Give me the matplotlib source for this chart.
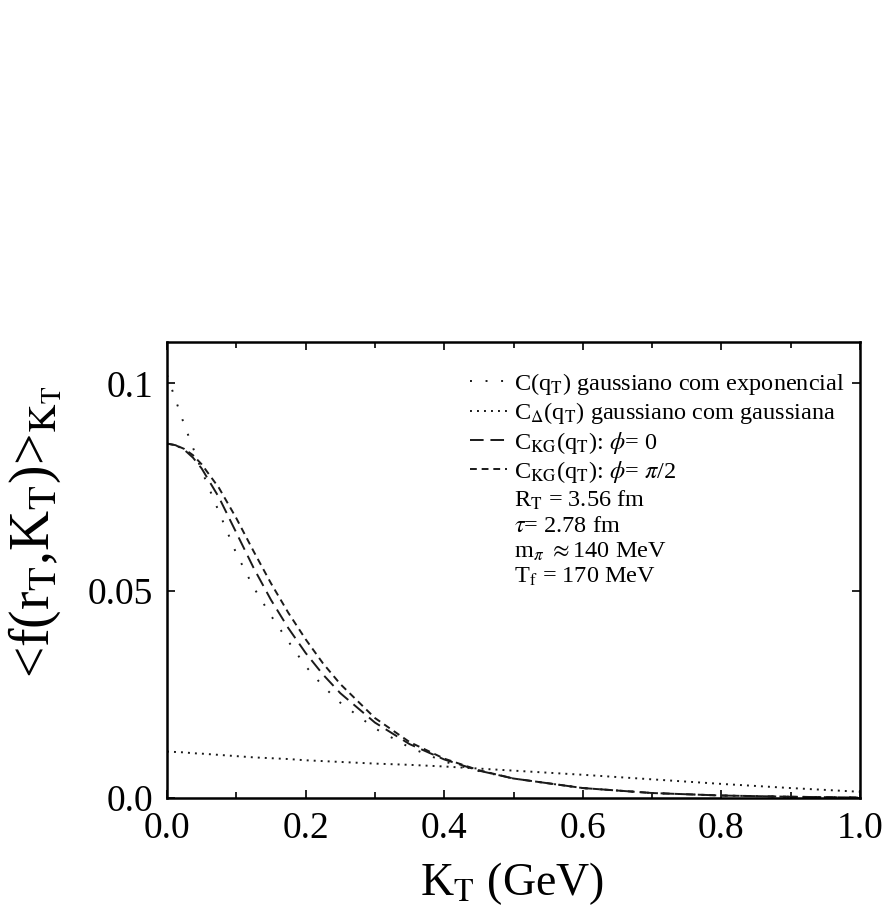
import matplotlib
matplotlib.use("Agg")
import matplotlib.pyplot as plt
from matplotlib.lines import Line2D
from matplotlib.ticker import MultipleLocator, FixedLocator

plt.rcParams['font.family'] = ['Liberation Serif', 'DejaVu Serif']
plt.rcParams['mathtext.fontset'] = 'stix'

# K_T grid (GeV)
kt = [0.000, 0.0125, 0.025, 0.0375, 0.050, 0.075, 0.100, 0.125, 0.150, 0.175, 0.200, 0.225,
      0.250, 0.300, 0.350, 0.400, 0.450, 0.500, 0.600, 0.700, 0.800, 0.900, 1.000]

# C(q_T) gaussiano com exponencial (sparse dots)
gauss_exp = [0.1020, 0.0960, 0.0900, 0.0845, 0.0790, 0.0690, 0.0590, 0.0508, 0.0440, 0.0378, 0.0318, 0.0270,
             0.0230, 0.0168, 0.0122, 0.0088, 0.0065, 0.0047, 0.0024, 0.0012, 0.0006, 0.0003, 0.0001]

# C_Delta(q_T) gaussiano com gaussiana (dense dots)
gauss_gauss = [0.0112, 0.0111, 0.0110, 0.0108, 0.0107, 0.0104, 0.0101, 0.0098, 0.0096, 0.0094, 0.0091, 0.0089,
               0.0087, 0.0083, 0.0080, 0.0076, 0.0071, 0.0066, 0.0056, 0.0045, 0.0034, 0.0024, 0.0015]

# C_KG(q_T): phi = 0 (long dashes)
kg_phi0 = [0.0855, 0.0851, 0.0840, 0.0821, 0.0795, 0.0725, 0.0640, 0.0555, 0.0478, 0.0410, 0.0350, 0.0298,
           0.0253, 0.0182, 0.0130, 0.0093, 0.0066, 0.0047, 0.0024, 0.0012, 0.0006, 0.0003, 0.0001]

# C_KG(q_T): phi = pi/2 (short dashes)
kg_phi90 = [0.0855, 0.0851, 0.0842, 0.0827, 0.0805, 0.0748, 0.0675, 0.0595, 0.0518, 0.0447, 0.0383, 0.0325,
            0.0275, 0.0193, 0.0135, 0.0095, 0.0067, 0.0047, 0.0024, 0.0012, 0.0006, 0.0003, 0.0001]

labels = [r'C(q$_\mathrm{T}$) gaussiano com exponencial',
          r'C$_\Delta$(q$_\mathrm{T}$) gaussiano com gaussiana',
          r'C$_\mathrm{KG}$(q$_\mathrm{T}$): $\phi$= 0',
          r'C$_\mathrm{KG}$(q$_\mathrm{T}$): $\phi$= $\pi$/2']
params = [r'R$_\mathrm{T}$ = 3.56 fm',
          r'$\tau$= 2.78 fm',
          r'm$_\pi$ $\approx$140 MeV',
          r'T$_\mathrm{f}$ = 170 MeV']

xticks = [0.0, 0.2, 0.4, 0.6, 0.8, 1.0]
xticklabels = ['0.0', '0.2', '0.4', '0.6', '0.8', '1.0']
yticks = [0.0, 0.05, 0.1]
yticklabels = ['0.0', '0.05', '0.1']

W, H = 885, 919
fig = plt.figure(figsize=(W / 100, H / 100), dpi=100)
x0, x1, yt, yb = 167, 860, 342, 798
ax = fig.add_axes([x0 / W, 1 - yb / H, (x1 - x0) / W, (yb - yt) / H])

col = '#1a1a1a'
lw = 1.4
styles = [(0, (1, 7)), (0, (1, 2.6)), (0, (7, 3.5)), (0, (3.5, 2.5))]
series = [gauss_exp, gauss_gauss, kg_phi0, kg_phi90]
handles = []
for s, ls, lab in zip(series, styles, labels):
    h, = ax.plot(kt, s, color=col, lw=lw, linestyle=ls, label=lab)
    handles.append(h)

for p in params:
    handles.append(Line2D([], [], color='none', label=p))

ax.set_xlim(0, 1.0)
ax.set_ylim(0, 0.11)
ax.xaxis.set_major_locator(FixedLocator(xticks))
ax.set_xticklabels(xticklabels)
ax.xaxis.set_minor_locator(MultipleLocator(0.1))
ax.yaxis.set_major_locator(FixedLocator(yticks))
ax.set_yticklabels(yticklabels)

for sp in ax.spines.values():
    sp.set_linewidth(1.8)
ax.tick_params(which='both', direction='in', top=True, right=True, width=1.2)
ax.tick_params(which='major', length=6, labelsize=27, pad=10)
ax.tick_params(which='minor', length=4)

ax.set_xlabel(r'K$_\mathrm{T}$ (GeV)', fontsize=33)
ax.xaxis.set_label_coords(0.498, -0.136)
ax.set_ylabel(r'<f(r$_\mathrm{T}$,K$_\mathrm{T}$)>$_{\mathrm{K_T}}$', fontsize=40)
ax.yaxis.set_label_coords(-0.148, 0.583)

leg = ax.legend(handles=handles, loc='upper right', bbox_to_anchor=(0.978, 0.937),
                frameon=False, fontsize=17.5, handlelength=1.5, handletextpad=0.3,
                labelspacing=0.14, borderpad=0, borderaxespad=0)

fig.savefig('out.png', dpi=100, facecolor='white')
